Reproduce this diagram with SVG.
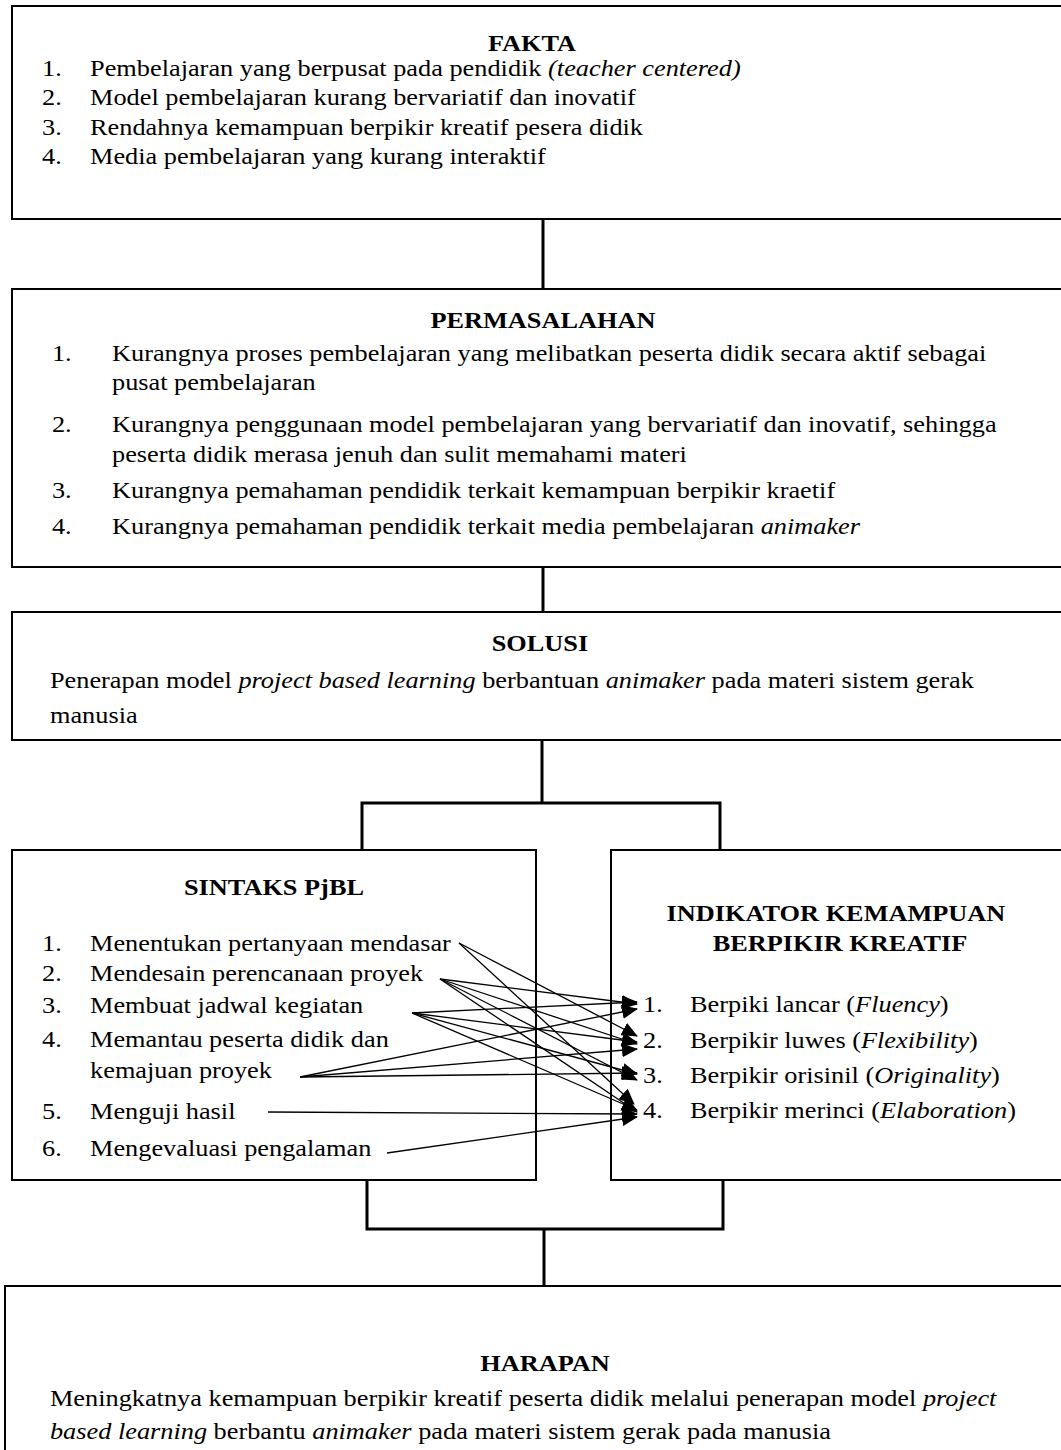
<svg xmlns="http://www.w3.org/2000/svg" width="1061" height="1450" viewBox="0 0 1061 1450">
<style>
text{font-family:"Liberation Serif","Times New Roman",serif;font-size:23.5px;fill:#000}
.b{font-weight:bold}
.c{text-anchor:middle}
.i{font-style:italic}
.box{fill:#fff;stroke:#000;stroke-width:2}
.conn{fill:none;stroke:#000;stroke-width:3}
.ar{stroke:#000;stroke-width:1.3;fill:none;marker-end:url(#ah)}
</style>
<defs>
<marker id="ah" markerUnits="userSpaceOnUse" markerWidth="16" markerHeight="14" refX="15" refY="7" orient="auto">
<path d="M0,0 L16,7 L0,14 Z" fill="#000"/>
</marker>
</defs>
<rect width="1061" height="1450" fill="#fff"/>
<g id="connectors">
<path class="conn" d="M543,219 V289"/>
<path class="conn" d="M543,567 V612"/>
<path class="conn" d="M542,740 V803 M362,850 V803 H720 V850"/>
<path class="conn" d="M367,1180 V1229 H723 V1180 M544,1229 V1286"/>
</g>
<g id="fakta">
<rect class="box" x="12" y="6" width="1060" height="213" stroke-width="2.5"/>
<g transform="scale(1.12,1)">
<text class="b c" x="475" y="51">FAKTA</text>
<text x="37.5" y="76">1.</text><text x="80.4" y="76">Pembelajaran yang berpusat pada pendidik <tspan class="i">(teacher centered)</tspan></text>
<text x="37.5" y="105">2.</text><text x="80.4" y="105">Model pembelajaran kurang bervariatif dan inovatif</text>
<text x="37.5" y="135">3.</text><text x="80.4" y="135">Rendahnya kemampuan berpikir kreatif pesera didik</text>
<text x="37.5" y="164">4.</text><text x="80.4" y="164">Media pembelajaran yang kurang interaktif</text>
</g>
</g>
<g id="permasalahan">
<rect class="box" x="12" y="289" width="1060" height="278"/>
<g transform="scale(1.12,1)">
<text class="b c" x="484.8" y="328">PERMASALAHAN</text>
<text x="46.4" y="361">1.</text><text x="100" y="361">Kurangnya proses pembelajaran yang melibatkan peserta didik secara aktif sebagai</text>
<text x="100" y="390">pusat pembelajaran</text>
<text x="46.4" y="432">2.</text><text x="100" y="432">Kurangnya penggunaan model pembelajaran yang bervariatif dan inovatif, sehingga</text>
<text x="100" y="462">peserta didik merasa jenuh dan sulit memahami materi</text>
<text x="46.4" y="498">3.</text><text x="100" y="498">Kurangnya pemahaman pendidik terkait kemampuan berpikir kraetif</text>
<text x="46.4" y="534">4.</text><text x="100" y="534">Kurangnya pemahaman pendidik terkait media pembelajaran <tspan class="i">animaker</tspan></text>
</g>
</g>
<g id="solusi">
<rect class="box" x="12" y="612" width="1060" height="128"/>
<g transform="scale(1.12,1)">
<text class="b c" x="482.1" y="651">SOLUSI</text>
<text x="44.6" y="688">Penerapan model <tspan class="i">project based learning</tspan> berbantuan <tspan class="i">animaker</tspan> pada materi sistem gerak</text>
<text x="44.6" y="723">manusia</text>
</g>
</g>
<g id="sintaks">
<rect class="box" x="12" y="850" width="524" height="330"/>
<g transform="scale(1.12,1)">
<text class="b c" x="244.6" y="895">SINTAKS PjBL</text>
<text x="37.5" y="951">1.</text><text x="80.4" y="951">Menentukan pertanyaan mendasar</text>
<text x="37.5" y="981">2.</text><text x="80.4" y="981">Mendesain perencanaan proyek</text>
<text x="37.5" y="1013">3.</text><text x="80.4" y="1013">Membuat jadwal kegiatan</text>
<text x="37.5" y="1047">4.</text><text x="80.4" y="1047">Memantau peserta didik dan</text>
<text x="80.4" y="1078">kemajuan proyek</text>
<text x="37.5" y="1119">5.</text><text x="80.4" y="1119">Menguji hasil</text>
<text x="37.5" y="1156">6.</text><text x="80.4" y="1156">Mengevaluasi pengalaman</text>
</g>
</g>
<g id="indikator">
<rect class="box" x="611" y="850" width="460" height="330"/>
<g transform="scale(1.12,1)">
<text class="b c" x="746.4" y="921">INDIKATOR KEMAMPUAN</text>
<text class="b c" x="750" y="951">BERPIKIR KREATIF</text>
<text x="574.1" y="1012">1.</text><text x="616.1" y="1012">Berpiki lancar (<tspan class="i">Fluency</tspan>)</text>
<text x="574.1" y="1048">2.</text><text x="616.1" y="1048">Berpikir luwes (<tspan class="i">Flexibility</tspan>)</text>
<text x="574.1" y="1083">3.</text><text x="616.1" y="1083">Berpikir orisinil (<tspan class="i">Originality</tspan>)</text>
<text x="574.1" y="1118">4.</text><text x="616.1" y="1118">Berpikir merinci (<tspan class="i">Elaboration</tspan>)</text>
</g>
</g>
<g id="arrows">
<line class="ar" x1="459" y1="943" x2="637" y2="1036"/>
<line class="ar" x1="459" y1="943" x2="634" y2="1104"/>
<line class="ar" x1="440" y1="979" x2="637" y2="1004"/>
<line class="ar" x1="440" y1="979" x2="637" y2="1044"/>
<line class="ar" x1="440" y1="979" x2="637" y2="1080"/>
<line class="ar" x1="440" y1="979" x2="637" y2="1112"/>
<line class="ar" x1="412" y1="1013" x2="637" y2="1002"/>
<line class="ar" x1="412" y1="1013" x2="637" y2="1042"/>
<line class="ar" x1="412" y1="1013" x2="637" y2="1074"/>
<line class="ar" x1="412" y1="1013" x2="637" y2="1110"/>
<line class="ar" x1="300" y1="1077" x2="637" y2="1009"/>
<line class="ar" x1="300" y1="1077" x2="637" y2="1049"/>
<line class="ar" x1="300" y1="1077" x2="637" y2="1073"/>
<line class="ar" x1="268" y1="1112" x2="637" y2="1114"/>
<line class="ar" x1="387" y1="1153" x2="637" y2="1117"/>
</g>
<g id="harapan">
<rect class="box" x="5" y="1286" width="1070" height="180"/>
<g transform="scale(1.12,1)">
<text class="b c" x="486.6" y="1371">HARAPAN</text>
<text x="44.6" y="1406">Meningkatnya kemampuan berpikir kreatif peserta didik melalui penerapan model <tspan class="i">project</tspan></text>
<text x="44.6" y="1439"><tspan class="i">based learning</tspan> berbantu <tspan class="i">animaker</tspan> pada materi sistem gerak pada manusia</text>
</g>
</g>
</svg>
